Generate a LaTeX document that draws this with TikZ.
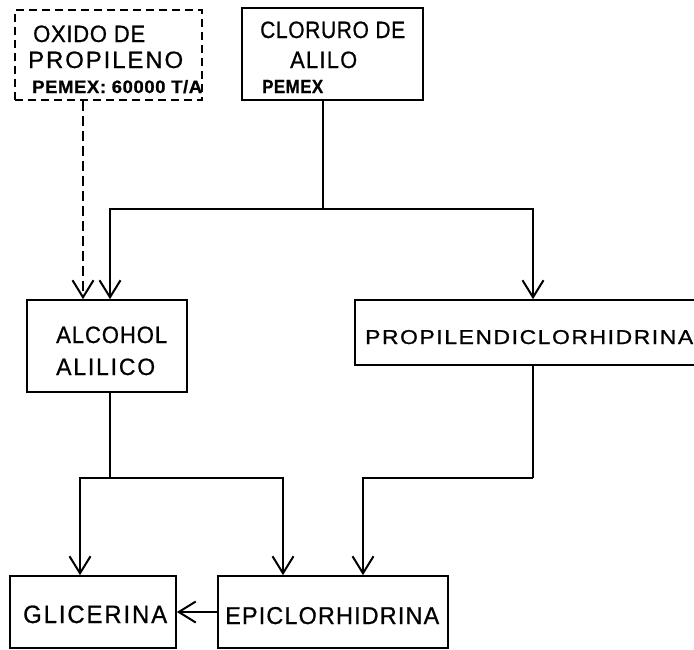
\documentclass[tikz,border=0pt]{standalone}
\usepackage{fontspec}
\usepackage{graphicx}
\usetikzlibrary{arrows.meta}
\newfontfamily\lettering[FakeBold=0.8]{Liberation Sans}
% lettered text set to a given width and cap height
\newcommand{\fitto}[4]{\resizebox{#1}{#2}{\addfontfeature{LetterSpace=#3}#4}}
\begin{document}
\begin{tikzpicture}[x=1pt,y=-1pt,
  box/.style={draw, line width=1.7pt, rectangle, inner sep=0pt},
  pending/.style={box, dash pattern=on 8pt off 5pt},
  flow/.style={line width=1.7pt, -{Straight Barb[length=17pt,width=21pt,line width=2pt]}},
  feed/.style={flow, dash pattern=on 10pt off 5pt},
  plain/.style={line width=1.7pt},
  lbl/.style={anchor=base west, inner sep=0pt, font=\lettering\fontsize{20}{20}\selectfont},
  small/.style={lbl, font=\lettering\bfseries\fontsize{20}{20}\selectfont}]
\useasboundingbox (0,0) rectangle (694,649);
\clip (0,0) rectangle (694,649);

% process boxes
\node[pending, minimum width=187pt, minimum height=90pt] (oxido) at (108.5,55) {};
\node[box, minimum width=181pt, minimum height=92pt] (cloruro) at (332.5,54) {};
\node[box, minimum width=160pt, minimum height=92pt] (alcohol) at (107,346) {};
\node[box, minimum width=365pt, minimum height=65pt] (propilen) at (537.5,332.5) {};
\node[box, minimum width=166pt, minimum height=72pt] (glicerina) at (93,612) {};
\node[box, minimum width=230pt, minimum height=72pt] (epicl) at (333,612) {};

% labels
\node[lbl] (t1) at (33,42) {\fitto{112pt}{16.5pt}{3}{OXIDO DE}};
\node[lbl] (t2) at (28,68) {\fitto{155pt}{16.5pt}{8}{PROPILENO}};
\node[small] (t3) at (32,93) {\fitto{170pt}{13pt}{3}{PEMEX: 60000 T/A}};
\node[lbl] (t4) at (260,38) {\fitto{145pt}{16.5pt}{3}{CLORURO DE}};
\node[lbl] (t5) at (290,68) {\fitto{67pt}{16.5pt}{6}{ALILO}};
\node[small] (t6) at (262,93) {\fitto{61pt}{13pt}{3}{PEMEX}};
\node[lbl] (t7) at (56,343) {\fitto{111pt}{16.5pt}{4}{ALCOHOL}};
\node[lbl] (t8) at (56,375) {\fitto{99pt}{16.5pt}{8}{ALILICO}};
\node[lbl] (t9) at (365,344) {\fitto{328pt}{14pt}{7}{PROPILENDICLORHIDRINA}};
\node[lbl] (t10) at (23,623) {\fitto{144pt}{17.5pt}{8}{GLICERINA}};
\node[lbl] (t11) at (225,624) {\fitto{214pt}{17pt}{5}{EPICLORHIDRINA}};

% branch points and guide positions
\coordinate (cl) at (323,209);
\coordinate (al) at (110,478);
\coordinate (pr) at (533,478);
\coordinate (dx) at (83,0);
\coordinate (gx) at (80,0);
\coordinate (ex1) at (283,0);
\coordinate (ex2) at (363,0);

% connectors
\draw[feed] (oxido.south -| dx) -- (alcohol.north -| dx);
\draw[plain] (cloruro.south -| cl) -- (cl);
\draw[flow] (cl) -| (alcohol.north -| al);
\draw[flow] (cl) -| (propilen.north -| pr);
\draw[plain] (alcohol.south -| al) -- (al);
\draw[flow] (al) -| (glicerina.north -| gx);
\draw[flow] (al) -| (epicl.north -| ex1);
\draw[plain] (propilen.south -| pr) -- (pr);
\draw[flow] (pr) -| (epicl.north -| ex2);
\draw[flow] (epicl.west) -- (glicerina.east);
\end{tikzpicture}
\end{document}
